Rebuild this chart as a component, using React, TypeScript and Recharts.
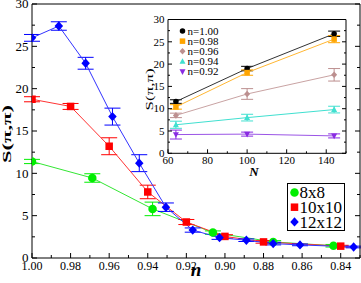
import React from 'react';
import { LineChart, Line, XAxis, YAxis, ErrorBar, Legend, Label } from 'recharts';

const FONT = '"Liberation Serif", "Times New Roman", serif';

// ---------- main chart data ----------
const n8x8 = [1.0, 0.96875, 0.9375, 0.90625, 0.875, 0.84375];
const s8x8 = [11.4, 9.45, 5.8, 3.0, 1.9, 1.45];
const e8x8 = [0.25, 0.5, 0.8, 0.2, 0.15, 0.15];

const n10x10 = [1.0, 0.98, 0.96, 0.94, 0.92, 0.9, 0.88, 0.84];
const s10x10 = [18.75, 17.9, 13.2, 7.8, 4.25, 2.55, 1.9, 1.4];
const e10x10 = [0.3, 0.35, 1.0, 0.8, 0.3, 0.2, 0.15, 0.1];

const n12x12 = [1.0, 0.9861, 0.9722, 0.9583, 0.9444, 0.9306, 0.9167, 0.9028, 0.8889, 0.875, 0.8611, 0.8333];
const s12x12 = [26.0, 27.4, 23.0, 16.7, 11.2, 6.0, 3.3, 2.4, 2.1, 1.7, 1.55, 1.3];
const e12x12 = [0.4, 0.5, 0.7, 1.0, 1.0, 0.5, 0.25, 0.2, 0.15, 0.15, 0.1, 0.1];

const mainLabels = ['8x8', '10x10', '12x12'];

const mainXMajor = [1.0, 0.98, 0.96, 0.94, 0.92, 0.9, 0.88, 0.86, 0.84];
const mainXMinor = [0.99, 0.97, 0.95, 0.93, 0.91, 0.89, 0.87, 0.85, 0.83];
const mainYMajor = [0, 5, 10, 15, 20, 25, 30];
const mainYMinor = [2.5, 7.5, 12.5, 17.5, 22.5, 27.5];

// ---------- inset data ----------
const latticeN = [64, 100, 144];
const sN100 = [11.6, 19.0, 26.8];
const eN100 = [0.4, 0.5, 0.6];
const sN098 = [10.4, 18.1, 25.6];
const eN098 = [0.5, 0.6, 0.8];
const sN096 = [8.5, 13.3, 17.6];
const eN096 = [0.5, 1.2, 1.4];
const sN094 = [6.4, 8.0, 9.8];
const eN094 = [0.8, 0.75, 0.75];
const sN092 = [4.2, 4.3, 3.9];
const eN092 = [1.0, 0.45, 0.45];
const insetLabels = ['n=1.00', 'n=0.98', 'n=0.96', 'n=0.94', 'n=0.92'];

const insetXMajor = [60, 80, 100, 120, 140];
const insetXMinor = [70, 90, 110, 130, 150];
const insetYMajor = [0, 5, 10, 15, 20, 25, 30];
const insetYMinor = [2.5, 7.5, 12.5, 17.5, 22.5, 27.5];

const zip = (xs: number[], ys: number[], es: number[]) =>
  xs.map((x, i) => ({ x, s: ys[i], e: es[i] }));

const mainSeries = [
  { name: mainLabels[0], data: zip(n8x8, s8x8, e8x8), color: '#00ee00', line: '#33e633', shape: 'circle', size: 8.5 },
  { name: mainLabels[1], data: zip(n10x10, s10x10, e10x10), color: '#ff0000', line: '#ff3333', shape: 'square', size: 7.5 },
  { name: mainLabels[2], data: zip(n12x12, s12x12, e12x12), color: '#0000ff', line: '#3333ff', shape: 'diamond', size: 8.5 },
];

const insetSeries = [
  { name: insetLabels[0], data: zip(latticeN, sN100, eN100), color: '#000000', line: '#333333', shape: 'circle', size: 5.5 },
  { name: insetLabels[1], data: zip(latticeN, sN098, eN098), color: '#ffa500', line: '#ffb733', shape: 'square', size: 5.5 },
  { name: insetLabels[2], data: zip(latticeN, sN096, eN096), color: '#bc8f8f', line: '#c9a3a3', shape: 'diamond', size: 6 },
  { name: insetLabels[3], data: zip(latticeN, sN094, eN094), color: '#40e0d0', line: '#40e0d0', shape: 'triUp', size: 6 },
  { name: insetLabels[4], data: zip(latticeN, sN092, eN092), color: '#8a2be2', line: '#9b55e6', shape: 'triDown', size: 6 },
];

function Marker({ shape, cx, cy, size, fill }: any) {
  const h = size / 2;
  if (shape === 'circle') return <circle cx={cx} cy={cy} r={h} fill={fill} />;
  if (shape === 'square') return <rect x={cx - h} y={cy - h} width={size} height={size} fill={fill} />;
  if (shape === 'diamond')
    return <polygon points={`${cx},${cy - h * 1.1} ${cx + h},${cy} ${cx},${cy + h * 1.1} ${cx - h},${cy}`} fill={fill} />;
  if (shape === 'triUp')
    return <polygon points={`${cx},${cy - h * 1.1} ${cx + h},${cy + h * 0.8} ${cx - h},${cy + h * 0.8}`} fill={fill} />;
  return <polygon points={`${cx},${cy + h * 1.1} ${cx + h},${cy - h * 0.8} ${cx - h},${cy - h * 0.8}`} fill={fill} />;
}

function makeTick(
  side: 'bottom' | 'top' | 'left' | 'right',
  majors: number[],
  majorLen: number,
  minorLen: number,
  fontSize: number,
  fmt?: (v: number) => string,
) {
  return (props: any) => {
    const { x, y, payload } = props;
    const v = Number(payload.value);
    const major = majors.some((m) => Math.abs(m - v) < 1e-6);
    const len = major ? majorLen : minorLen;
    let line: any = null;
    let label: any = null;
    if (side === 'bottom') {
      line = <line x1={x} y1={y} x2={x} y2={y - len} stroke="#000" strokeWidth={1} />;
      if (major && fmt)
        label = (
          <text x={x} y={y + fontSize} textAnchor="middle" fontSize={fontSize} fontFamily={FONT} fill="#000">
            {fmt(v)}
          </text>
        );
    } else if (side === 'top') {
      line = <line x1={x} y1={y} x2={x} y2={y + len} stroke="#000" strokeWidth={1} />;
    } else if (side === 'left') {
      line = <line x1={x} y1={y} x2={x + len} y2={y} stroke="#000" strokeWidth={1} />;
      if (major && fmt)
        label = (
          <text x={x - 3.5} y={y + fontSize * 0.34} textAnchor="end" fontSize={fontSize} fontFamily={FONT} fill="#000">
            {fmt(v)}
          </text>
        );
    } else {
      line = <line x1={x} y1={y} x2={x - len} y2={y} stroke="#000" strokeWidth={1} />;
    }
    return (
      <g>
        {line}
        {label}
      </g>
    );
  };
}

const dotFor = (shape: string, size: number, fill: string) => (p: any) => (
  <Marker key={`d-${p.index}`} shape={shape} cx={p.cx} cy={p.cy} size={size} fill={fill} />
);

function MainLegend() {
  return (
    <svg width={59} height={49} style={{ display: 'block' }}>
      <rect x={0.5} y={0.5} width={57} height={47} fill="#fff" stroke="#000" strokeWidth={1} />
      {mainSeries.map((s, i) => (
        <g key={s.name}>
          <Marker shape={s.shape} cx={7.5} cy={9.5 + i * 14.7} size={s.size} fill={s.color} />
          <text x={12.5} y={9.5 + i * 14.7 + 5.6} fontSize={17} fontFamily={FONT} fill="#000">
            {s.name}
          </text>
        </g>
      ))}
    </svg>
  );
}

function InsetLegend() {
  return (
    <svg width={60} height={54} style={{ display: 'block' }}>
      {insetSeries.map((s, i) => (
        <g key={s.name}>
          <Marker shape={s.shape} cx={5.5} cy={5 + i * 10.15} size={s.size} fill={s.color} />
          <text x={10.5} y={5 + i * 10.15 + 3.8} fontSize={11} fontFamily={FONT} fill="#000">
            {s.name}
          </text>
        </g>
      ))}
    </svg>
  );
}

const fmt2 = (v: number) => v.toFixed(2);
const fmt0 = (v: number) => String(Math.round(v));

export default function App() {
  return (
    <div style={{ position: 'absolute', left: 0, top: 0, width: 361, height: 283, background: '#fff' }}>
      <div style={{ position: 'absolute', left: 0, top: 0 }}>
        <LineChart width={361} height={283} margin={{ top: 3, right: 0, bottom: 0, left: 0 }}>
          <XAxis
            xAxisId="b"
            dataKey="x"
            type="number"
            domain={[0.83, 1.0]}
            reversed
            allowDataOverflow
            ticks={[...mainXMajor, ...mainXMinor]}
            interval={0}
            tickLine={false}
            tickSize={0}
            tickMargin={0}
            height={25}
            axisLine={{ stroke: '#000', strokeWidth: 1 }}
            tick={makeTick('bottom', mainXMajor, 5, 3, 12, fmt2)}
            label={
              <Label
                content={(p: any) => {
                  const vb = p.viewBox || { x: 32, y: 258, width: 328, height: 25 };
                  return (
                    <text
                      x={vb.x + vb.width / 2}
                      y={vb.y + 18}
                      textAnchor="middle"
                      fontSize={19}
                      fontWeight="bold"
                      fontStyle="italic"
                      fontFamily={FONT}
                      fill="#000"
                    >
                      n
                    </text>
                  );
                }}
              />
            }
          />
          <XAxis
            xAxisId="t"
            orientation="top"
            type="number"
            domain={[0.83, 1.0]}
            reversed
            allowDataOverflow
            ticks={[...mainXMajor, ...mainXMinor]}
            interval={0}
            tickLine={false}
            tickSize={0}
            tickMargin={0}
            height={1}
            axisLine={{ stroke: '#000', strokeWidth: 1 }}
            tick={makeTick('top', mainXMajor, 5, 3, 12)}
          />
          <YAxis
            yAxisId="l"
            type="number"
            domain={[0, 30]}
            allowDataOverflow
            ticks={[...mainYMajor, ...mainYMinor]}
            interval={0}
            tickLine={false}
            tickSize={0}
            tickMargin={0}
            width={32}
            axisLine={{ stroke: '#000', strokeWidth: 1 }}
            tick={makeTick('left', mainYMajor, 5, 3, 13, fmt0)}
            label={
              <Label
                content={(p: any) => {
                  const vb = p.viewBox || { x: 0, y: 4, width: 32, height: 254 };
                  const cx = vb.x + 6.5;
                  const cy = vb.y + vb.height / 2 + 3;
                  return (
                    <text
                      x={cx}
                      y={cy}
                      transform={`rotate(-90 ${cx} ${cy})`}
                      textAnchor="middle"
                      dominantBaseline="central"
                      fontSize={13}
                      fontWeight="bold"
                      fontFamily={FONT}
                      textLength={58}
                      lengthAdjust="spacingAndGlyphs"
                      fill="#000"
                    >
                      S(π,π)
                    </text>
                  );
                }}
              />
            }
          />
          <YAxis
            yAxisId="r"
            orientation="right"
            type="number"
            domain={[0, 30]}
            allowDataOverflow
            ticks={[...mainYMajor, ...mainYMinor]}
            interval={0}
            tickLine={false}
            tickSize={0}
            tickMargin={0}
            width={1}
            axisLine={{ stroke: '#000', strokeWidth: 1 }}
            tick={makeTick('right', mainYMajor, 5, 3, 13)}
          />
          {mainSeries.map((s) => (
            <Line
              key={s.name}
              xAxisId="b"
              yAxisId="l"
              data={s.data}
              dataKey="s"
              name={s.name}
              stroke={s.line}
              strokeWidth={1}
              isAnimationActive={false}
              activeDot={false}
              dot={dotFor(s.shape, s.size, s.color)}
            >
              <ErrorBar dataKey="e" direction="y" width={8} stroke={s.color} strokeWidth={1} />
            </Line>
          ))}
          <Legend
            layout="horizontal"
            verticalAlign="middle"
            align="center"
            wrapperStyle={{ left: 287, top: 183, width: 59, height: 49 }}
            content={() => <MainLegend />}
          />
        </LineChart>
      </div>

      <div style={{ position: 'absolute', left: 0, top: 0 }}>
        <LineChart width={361} height={283} margin={{ top: 18.5, right: 14, bottom: 99.7, left: 128 }}>
          <XAxis
            xAxisId="b"
            dataKey="x"
            type="number"
            domain={[60, 150]}
            allowDataOverflow
            ticks={[...insetXMajor, ...insetXMinor]}
            interval={0}
            tickLine={false}
            tickSize={0}
            tickMargin={0}
            height={30}
            axisLine={{ stroke: '#000', strokeWidth: 1 }}
            tick={makeTick('bottom', insetXMajor, 4, 2, 11, fmt0)}
            label={
              <Label
                content={(p: any) => {
                  const vb = p.viewBox || { x: 168, y: 153, width: 178, height: 30 };
                  return (
                    <text
                      x={vb.x + vb.width / 2 - 3}
                      y={vb.y + 23}
                      textAnchor="middle"
                      fontSize={13}
                      fontStyle="italic"
                      fontWeight="bold"
                      fontFamily={FONT}
                      fill="#000"
                    >
                      N
                    </text>
                  );
                }}
              />
            }
          />
          <XAxis
            xAxisId="t"
            orientation="top"
            type="number"
            domain={[60, 150]}
            allowDataOverflow
            ticks={[...insetXMajor, ...insetXMinor]}
            interval={0}
            tickLine={false}
            tickSize={0}
            tickMargin={0}
            height={1}
            axisLine={{ stroke: '#000', strokeWidth: 1 }}
            tick={makeTick('top', insetXMajor, 4, 2, 11)}
          />
          <YAxis
            yAxisId="l"
            type="number"
            domain={[0, 30]}
            allowDataOverflow
            ticks={[...insetYMajor, ...insetYMinor]}
            interval={0}
            tickLine={false}
            tickSize={0}
            tickMargin={0}
            width={40}
            axisLine={{ stroke: '#000', strokeWidth: 1 }}
            tick={makeTick('left', insetYMajor, 4, 2, 11, fmt0)}
            label={
              <Label
                content={(p: any) => {
                  const vb = p.viewBox || { x: 128, y: 19.5, width: 40, height: 134 };
                  const cx = vb.x + 21;
                  const cy = vb.y + vb.height / 2 + 3;
                  return (
                    <text
                      x={cx}
                      y={cy}
                      transform={`rotate(-90 ${cx} ${cy})`}
                      textAnchor="middle"
                      dominantBaseline="central"
                      fontSize={11}
                      fontFamily={FONT}
                      textLength={42}
                      lengthAdjust="spacingAndGlyphs"
                      fill="#000"
                    >
                      S(π,π)
                    </text>
                  );
                }}
              />
            }
          />
          <YAxis
            yAxisId="r"
            orientation="right"
            type="number"
            domain={[0, 30]}
            allowDataOverflow
            ticks={[...insetYMajor, ...insetYMinor]}
            interval={0}
            tickLine={false}
            tickSize={0}
            tickMargin={0}
            width={1}
            axisLine={{ stroke: '#000', strokeWidth: 1 }}
            tick={makeTick('right', insetYMajor, 4, 2, 11)}
          />
          {insetSeries.map((s) => (
            <Line
              key={s.name}
              xAxisId="b"
              yAxisId="l"
              data={s.data}
              dataKey="s"
              name={s.name}
              stroke={s.line}
              strokeWidth={1}
              isAnimationActive={false}
              activeDot={false}
              dot={dotFor(s.shape, s.size, s.color)}
            >
              <ErrorBar dataKey="e" direction="y" width={6} stroke={s.color} strokeWidth={1} />
            </Line>
          ))}
          <Legend
            layout="horizontal"
            verticalAlign="middle"
            align="center"
            wrapperStyle={{ left: 177, top: 26, width: 60, height: 54 }}
            content={() => <InsetLegend />}
          />
        </LineChart>
      </div>
    </div>
  );
}
